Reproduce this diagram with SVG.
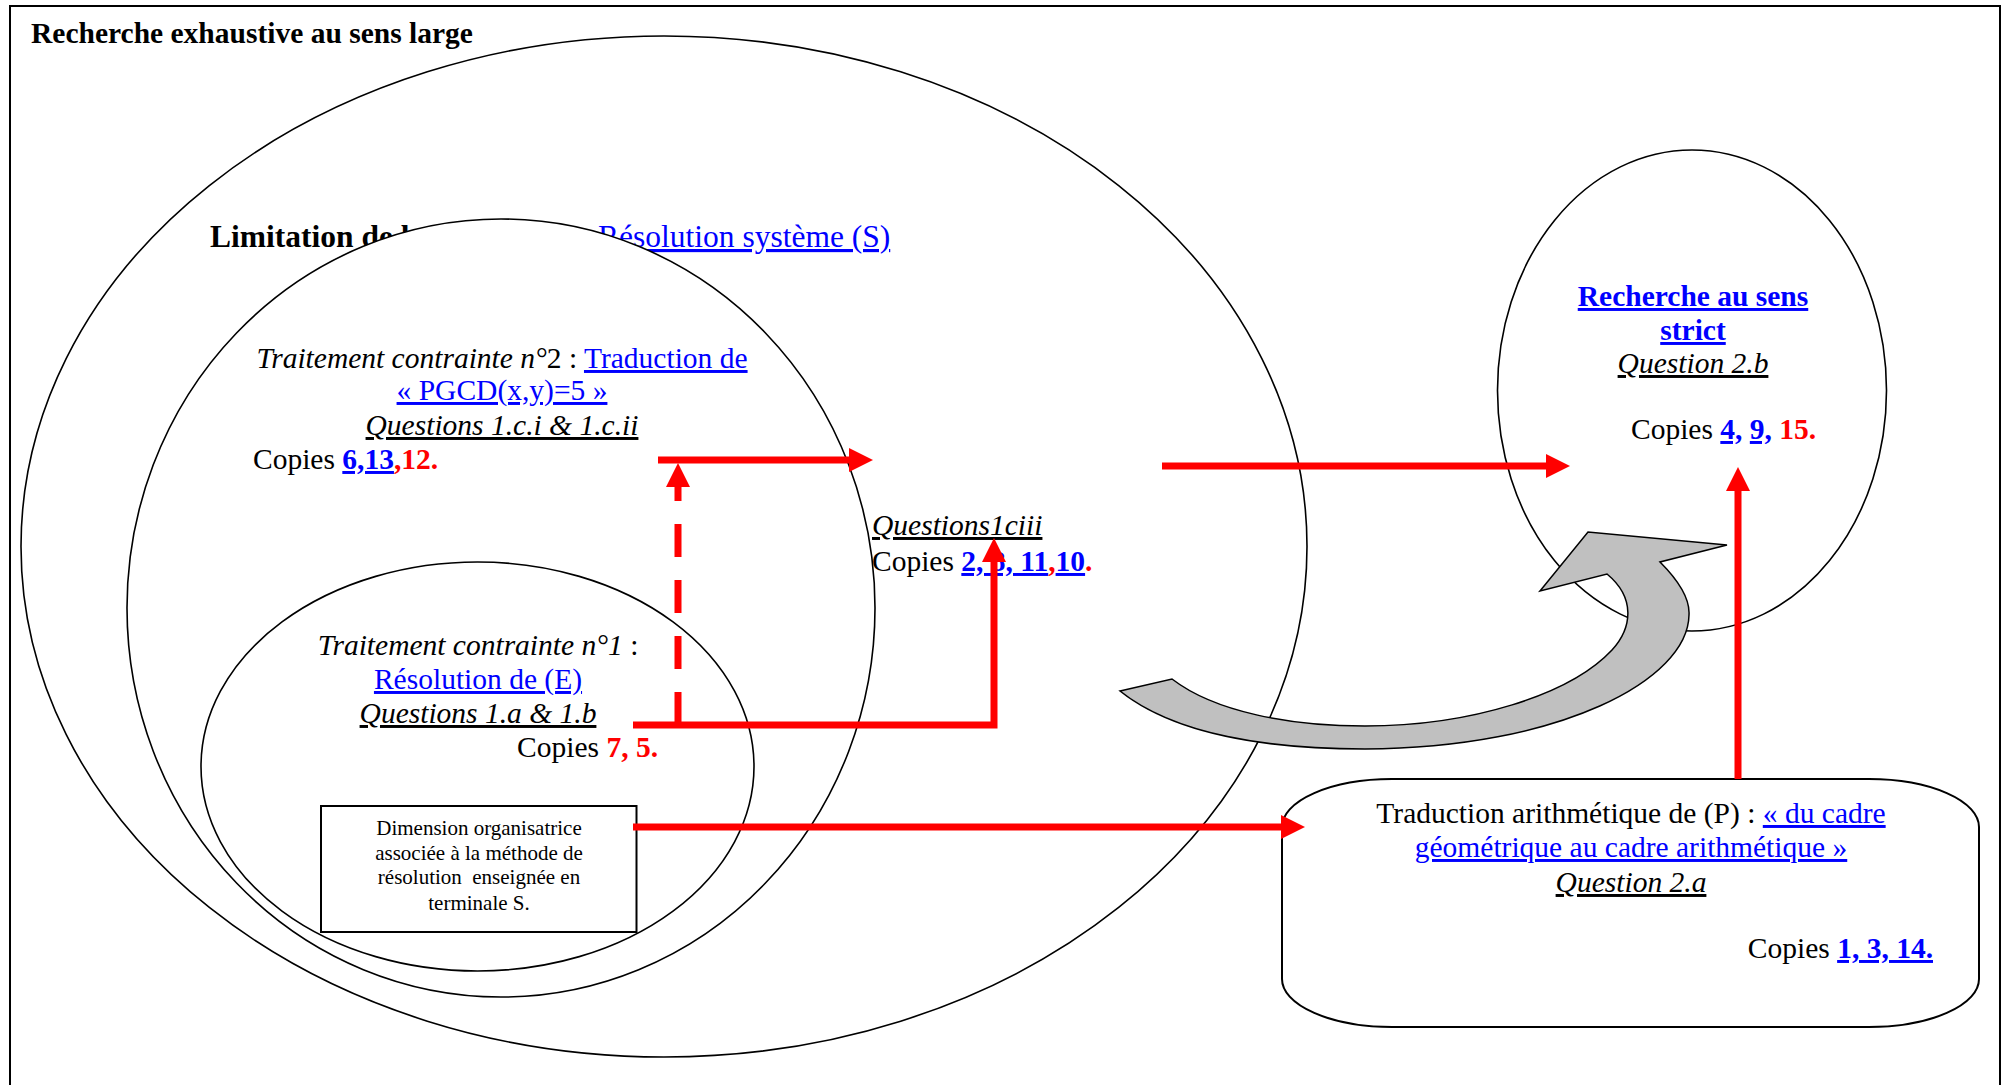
<svg xmlns="http://www.w3.org/2000/svg" width="2011" height="1085" viewBox="0 0 2011 1085">
<style>
text{font-family:"Liberation Serif","Times New Roman",serif;font-size:29.5px;fill:#000}
.shape{fill:#fff;stroke:#000;stroke-width:1.6}
.b{font-weight:bold}
.i{font-style:italic}
.iu{font-style:italic;text-decoration:underline}
.lk{fill:#0000FF;text-decoration:underline}
.bl{fill:#0000FF;font-weight:bold;text-decoration:underline}
.rd{fill:#FF0000;font-weight:bold}
.red{fill:none;stroke:#FF0000;stroke-width:7}
.small{font-size:21px}
</style>
<defs>
<marker id="ah" markerUnits="userSpaceOnUse" markerWidth="24" markerHeight="24" viewBox="0 0 24 24" refX="0" refY="12" orient="auto">
<path d="M0,0 L24,12 L0,24 Z" fill="#FF0000"/>
</marker>
</defs>
<rect width="2011" height="1085" fill="#fff"/>
<g id="frame">
<rect x="10" y="6" width="1990" height="1100" fill="none" stroke="#000" stroke-width="2"/>
<text x="31" y="43" class="b">Recherche exhaustive au sens large</text>
</g>
<g id="node-large">
<ellipse cx="664" cy="546.5" rx="643" ry="510.5" class="shape"/>
<text x="210" y="247" class="b" style="font-size:31.5px">Limitation de l</text>
<text x="598" y="247" class="lk" style="font-size:31.5px">Résolution système (S)</text>
</g>
<g id="node-limitation">
<ellipse cx="501" cy="608" rx="374" ry="389" class="shape"/>
<text x="502" y="368" text-anchor="middle"><tspan class="i">Traitement contrainte n°</tspan>2 : <tspan class="lk">Traduction de</tspan></text>
<text x="502" y="400" text-anchor="middle"><tspan class="lk">« PGCD(x,y)=5 »</tspan></text>
<text x="502" y="435" text-anchor="middle"><tspan class="iu">Questions 1.c.i &amp; 1.c.ii</tspan></text>
<text x="253" y="469">Copies <tspan class="bl">6,13</tspan><tspan class="rd">,12.</tspan></text>
</g>
<g id="node-contrainte1">
<ellipse cx="477.5" cy="766.5" rx="276.5" ry="204.5" class="shape"/>
<text x="478" y="655" text-anchor="middle"><tspan class="i">Traitement contrainte n°1</tspan> :</text>
<text x="478" y="689" text-anchor="middle"><tspan class="lk">Résolution de (E)</tspan></text>
<text x="478" y="723" text-anchor="middle"><tspan class="iu">Questions 1.a &amp; 1.b</tspan></text>
<text x="658" y="757" text-anchor="end">Copies <tspan class="rd">7, 5.</tspan></text>
</g>
<g id="node-dimension">
<rect x="321" y="806" width="315.5" height="126" fill="#fff" stroke="#000" stroke-width="2"/>
<text x="479" y="835" text-anchor="middle" class="small">Dimension organisatrice</text>
<text x="479" y="860" text-anchor="middle" class="small">associée à la méthode de</text>
<text x="479" y="884" text-anchor="middle" class="small" xml:space="preserve">résolution  enseignée en</text>
<text x="479" y="910" text-anchor="middle" class="small">terminale S.</text>
</g>
<g id="node-q1ciii">
<text x="872" y="535"><tspan class="iu">Questions1ciii</tspan></text>
<text x="872" y="571">Copies <tspan class="bl">2, 8, 11</tspan><tspan class="rd">,</tspan><tspan class="bl">10</tspan><tspan class="rd">.</tspan></text>
</g>
<g id="node-strict">
<ellipse cx="1692" cy="390.5" rx="194.5" ry="240.5" class="shape"/>
<text x="1693" y="306" text-anchor="middle"><tspan class="bl">Recherche au sens</tspan></text>
<text x="1693" y="340" text-anchor="middle"><tspan class="bl">strict</tspan></text>
<text x="1693" y="373" text-anchor="middle"><tspan class="iu">Question 2.b</tspan></text>
<text x="1631" y="439">Copies <tspan class="bl">4,</tspan> <tspan class="bl">9,</tspan><tspan class="rd"> 15.</tspan></text>
</g>
<g id="node-arith">
<rect x="1282" y="779" width="697" height="248" rx="110" ry="48" class="shape" style="stroke-width:2"/>
<text x="1631" y="823" text-anchor="middle">Traduction arithmétique de (P) : <tspan class="lk">« du cadre</tspan></text>
<text x="1631" y="857" text-anchor="middle"><tspan class="lk">géométrique au cadre arithmétique »</tspan></text>
<text x="1631" y="892" text-anchor="middle"><tspan class="iu">Question 2.a</tspan></text>
<text x="1933" y="958" text-anchor="end">Copies <tspan class="bl">1, 3, 14.</tspan></text>
</g>
<g id="connectors">
<path d="M1120,691 L1172,679 C1215,712 1290,726 1365,726 C1470,726 1570,695 1612,650 C1632,628 1636,598 1607,574 L1540,591 L1588,532 L1727,545 L1660,562 C1680,582 1690,600 1689,615 C1688,680 1560,748 1365,749 C1270,749 1175,735 1120,691 Z" fill="#C0C0C0" stroke="#000" stroke-width="1.5"/>
<path class="red" d="M658,460 H849" marker-end="url(#ah)"/>
<path class="red" d="M678,725 V487" stroke-dasharray="33 23" marker-end="url(#ah)"/>
<path class="red" d="M633,725 H994 V562" stroke-linejoin="miter" marker-end="url(#ah)"/>
<path class="red" d="M633,827 H1281" marker-end="url(#ah)"/>
<path class="red" d="M1162,466 H1546" marker-end="url(#ah)"/>
<path class="red" d="M1738,779 V491" marker-end="url(#ah)"/>
</g>
</svg>
